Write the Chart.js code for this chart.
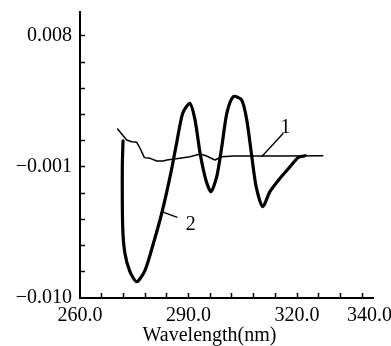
<!DOCTYPE html>
<html><head><meta charset="utf-8">
<script src="https://cdn.jsdelivr.net/npm/chart.js@4/dist/chart.umd.min.js"></script>
<style>html,body{margin:0;padding:0;background:#fff}canvas{display:block}</style>
</head><body>
<canvas id="c" width="391" height="346"></canvas>
<script>
// Curve 1 (thin)
const curve1X = [270.4, 272.9, 274.3, 275.7, 276.6, 277.8, 279.4, 281.2, 283.0, 284.0, 287.6, 290.4, 293.2, 295.0, 297.3, 299.2, 302.4, 315.3, 327.1];
const curve1Y = [0.00161, 0.00085, 0.00073, 0.00069, 0.00028, -0.00036, -0.00041, -0.00059, -0.00059, -0.00052, -0.00041, -0.00030, -0.00011, -0.00025, -0.00052, -0.00030, -0.00025, -0.00025, -0.00023];
// Curve 2 (thick)
const curve2X = [271.9, 271.7, 271.8, 272.4, 273.8, 275.7, 278.0, 280.3, 282.6, 284.9, 286.7, 288.4, 290.4, 291.8, 293.2, 294.8, 296.2, 297.8, 299.2, 300.6, 302.4, 304.7, 306.1, 307.5, 308.7, 310.5, 312.5, 315.3, 318.1, 320.4, 322.2];
const curve2Y = [0.00080, -0.00098, -0.00510, -0.00691, -0.00819, -0.00888, -0.00808, -0.00624, -0.00418, -0.00167, 0.00062, 0.00269, 0.00337, 0.00223, -0.00006, -0.00190, -0.00270, -0.00167, 0.00039, 0.00269, 0.00383, 0.00360, 0.00223, -0.00030, -0.00236, -0.00373, -0.00270, -0.00178, -0.00098, -0.00034, -0.00023];

const xMinorTicks = [266, 272, 278, 284, 290, 296, 302, 308, 314, 320, 326, 332, 338];
const xTickValues = [260, 290, 320, 340];
const xTickLabels = ['260.0', '290.0', '320.0', '340.0'];
const yMinorTicks = [-0.0082, -0.0064, -0.0046, -0.0028, -0.001, 0.0008, 0.0026, 0.0044, 0.0062, 0.008];
const yTickValues = [-0.010, -0.001, 0.008];
const yTickLabels = ['\u22120.010', '\u22120.001', '0.008'];

const curveNames = ['1', '2'];
const nameX = [316.8, 290.6];
const nameY = [0.00168, -0.00499];
const leaderStartX = [316.2, 286.9];
const leaderStartY = [0.00131, -0.00446];
const leaderEndX = [310.2, 282.6];
const leaderEndY = [-0.00030, -0.00407];

const near = (a, b) => Math.abs(a - b) < 1e-7;
const toPts = (xs, ys) => xs.map((x, i) => ({x: x, y: ys[i]}));

Chart.defaults.font.family = "'Liberation Serif', 'Times New Roman', serif";
Chart.defaults.font.size = 20;
Chart.defaults.color = '#000';

const namePlugin = {
  id: 'curveNames',
  afterLayout(chart) {
    // centre the axis title under the plotted region as in the original figure
    if (chart.titleBlock) { chart.titleBlock.left = 28; chart.titleBlock.right = 391; }
  },
  afterDatasetsDraw(chart) {
    const ctx = chart.ctx, xs = chart.scales.x, ys = chart.scales.y;
    ctx.save();
    ctx.strokeStyle = '#000';
    ctx.lineWidth = 1.4;
    ctx.fillStyle = '#000';
    ctx.font = "20px 'Liberation Serif', serif";
    ctx.textAlign = 'center';
    ctx.textBaseline = 'middle';
    curveNames.forEach((n, i) => {
      ctx.beginPath();
      ctx.moveTo(xs.getPixelForValue(leaderStartX[i]), ys.getPixelForValue(leaderStartY[i]));
      ctx.lineTo(xs.getPixelForValue(leaderEndX[i]), ys.getPixelForValue(leaderEndY[i]));
      ctx.stroke();
      ctx.fillText(n, xs.getPixelForValue(nameX[i]), ys.getPixelForValue(nameY[i]));
    });
    ctx.restore();
  }
};

new Chart(document.getElementById('c'), {
  type: 'line',
  data: {
    datasets: [
      {data: toPts(curve1X, curve1Y), borderColor: '#000', borderWidth: 1.5, pointRadius: 0, tension: 0, fill: false, borderJoinStyle: 'round', borderCapStyle: 'round'},
      {data: toPts(curve2X, curve2Y), borderColor: '#000', borderWidth: 3.2, pointRadius: 0, tension: 0.25, fill: false, borderJoinStyle: 'round', borderCapStyle: 'round'}
    ]
  },
  options: {
    responsive: false,
    animation: false,
    events: [],
    layout: {padding: {left: 0, right: 18, top: 12, bottom: 0}},
    plugins: {
      legend: {display: false},
      tooltip: {enabled: false},
      title: {display: true, position: 'bottom', text: 'Wavelength(nm)', color: '#000',
        font: {size: 20, weight: 'normal'}, padding: {top: 0, bottom: -2}}
    },
    scales: {
      x: {
        type: 'linear', min: 260, max: 341,
        afterBuildTicks: s => { s.ticks = xTickValues.concat(xMinorTicks).filter((v, i, a) => a.findIndex(w => near(w, v)) === i).sort((a, b) => a - b).map(v => ({value: v})); },
        afterFit: s => { s.height = 26; s.paddingLeft = 0; s.paddingRight = 0; },
        ticks: {autoSkip: false, maxRotation: 0, padding: 11, color: '#000',
          callback: v => { const i = xTickValues.findIndex(w => near(w, v)); return i >= 0 ? xTickLabels[i] : ''; }},
        grid: {display: true, drawOnChartArea: false, drawTicks: true, tickLength: -5, tickWidth: 1.5,
          tickColor: c => (c.tick && xMinorTicks.some(w => near(w, c.tick.value))) ? '#000' : 'rgba(0,0,0,0)'},
        border: {display: true, color: '#000', width: 2}
      },
      y: {
        type: 'linear', min: -0.010, max: 0.00964,
        afterBuildTicks: s => { s.ticks = [-0.010].concat(yMinorTicks).map(v => ({value: v})); },
        afterFit: s => { s.width = 80; s.paddingTop = 0; s.paddingBottom = 0; },
        ticks: {autoSkip: false, padding: 13, color: '#000',
          callback: v => { const i = yTickValues.findIndex(w => near(w, v)); return i >= 0 ? yTickLabels[i] : ''; }},
        grid: {display: true, drawOnChartArea: false, drawTicks: true, tickLength: -5, tickWidth: 1.5,
          tickColor: c => (c.tick && yMinorTicks.some(w => near(w, c.tick.value))) ? '#000' : 'rgba(0,0,0,0)'},
        border: {display: true, color: '#000', width: 2}
      }
    }
  },
  plugins: [namePlugin]
});
</script>
</body></html>
